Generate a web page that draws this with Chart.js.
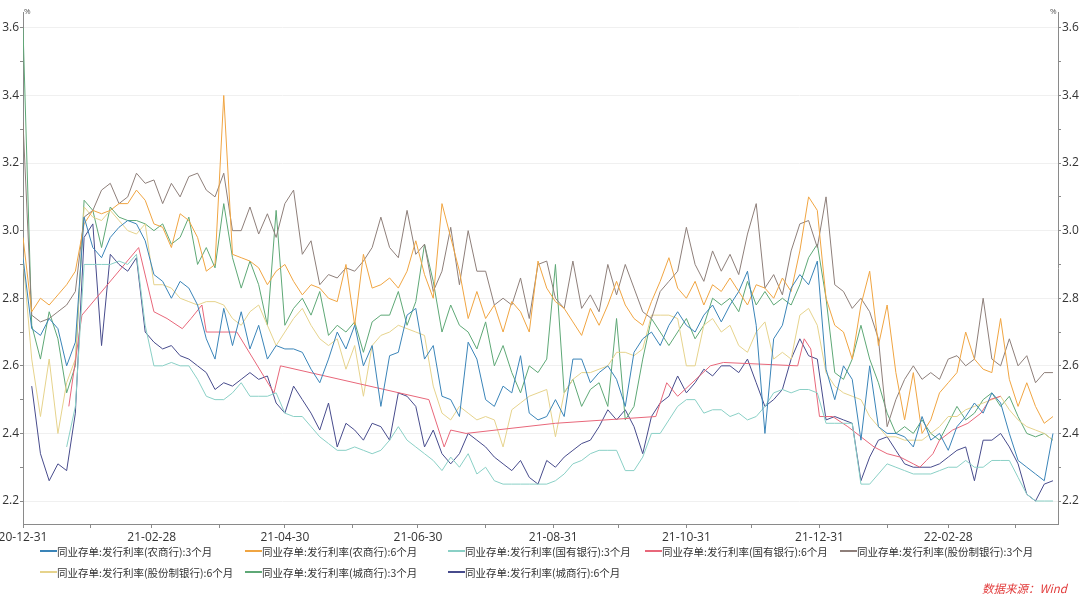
<!DOCTYPE html>
<html>
<head>
<meta charset="utf-8">
<script src="https://cdn.jsdelivr.net/npm/chart.js@4.4.0/dist/chart.umd.min.js"></script>
<style>
  html, body { margin: 0; padding: 0; background: #fff; }
  #wrap { position: relative; width: 1080px; height: 595px; overflow: hidden; font-family: "Noto Sans CJK SC", "Noto Sans", sans-serif; }
  #box { position: absolute; left: 0; top: 0; width: 1080px; height: 545px; }
  .unit { position: absolute; top: 5px; font-size: 8px; color: #555; font-family: "Open Sans", sans-serif; }
  #legend { position: absolute; left: 40px; top: 542px; display: grid; grid-template-columns: 205px 203px 197px 195px auto; row-gap: 3px; font-size: 10.5px; color: #333; }
  .item { display: flex; align-items: center; height: 18px; white-space: nowrap; }
  .item i { display: inline-block; width: 17px; height: 2px; }
  #src { position: absolute; left: 982px; top: 580px; font-size: 11.5px; font-style: italic; color: #e23b3b; }
</style>
</head>
<body>
<div id="wrap">
  <div id="box"><canvas id="grafico"></canvas></div>
  <div class="unit" style="left:24px">%</div>
  <div class="unit" style="left:1050px">%</div>
  <div id="legend"></div>
  <div id="src">数据来源：Wind</div>
</div>
<script>
// dias desde 2020-12-31
const dias = [
  0,4,8,12,16,20,24,28,32,36,
  40,44,48,52,56,60,64,68,72,76,
  80,84,88,92,96,100,104,108,112,116,
  120,124,128,132,136,140,144,148,152,156,
  160,164,168,172,176,180,184,188,192,196,
  200,204,208,212,216,220,224,228,232,236,
  240,244,248,252,256,260,264,268,272,276,
  280,284,288,292,296,300,304,308,312,316,
  320,324,328,332,336,340,344,348,352,356,
  360,364,368,372,376,380,384,388,392,396,
  400,404,408,412,416,420,424,428,432,436,
  440,444,448,452,456,460,464,468,472
];

const nombres = [
  '同业存单:发行利率(农商行):3个月',
  '同业存单:发行利率(农商行):6个月',
  '同业存单:发行利率(国有银行):3个月',
  '同业存单:发行利率(国有银行):6个月',
  '同业存单:发行利率(股份制银行):3个月',
  '同业存单:发行利率(股份制银行):6个月',
  '同业存单:发行利率(城商行):3个月',
  '同业存单:发行利率(城商行):6个月'
];

const colores = ['#3a84b8', '#f0a542', '#8ad0c6', '#e8677a', '#8e7f7a', '#e6d38c', '#5ea876', '#474b8c'];

const nongshang3m = [
  2.92,2.71,2.69,2.74,2.71,2.60,2.67,3.04,2.95,2.92,
  2.98,3.01,3.03,3.02,2.97,2.87,2.85,2.80,2.85,2.83,
  2.78,2.68,2.62,2.77,2.66,2.76,2.65,2.72,2.62,2.66,
  2.65,2.65,2.64,2.59,2.55,2.62,2.70,2.65,2.72,2.60,
  2.66,2.48,2.63,2.64,2.75,2.77,2.62,2.66,2.51,2.50,
  2.45,2.67,2.62,2.50,2.48,2.54,2.52,2.63,2.46,2.44,
  2.45,2.50,2.45,2.62,2.62,2.55,2.58,2.60,2.56,2.48,
  2.64,2.68,2.70,2.66,2.72,2.76,2.72,2.70,2.75,2.78,
  2.73,2.78,2.82,2.88,2.72,2.40,2.68,2.72,2.83,2.87,
  2.84,2.91,2.59,2.50,2.60,2.56,2.38,2.60,2.42,2.40,
  2.40,2.39,2.36,2.45,2.38,2.40,2.35,2.42,2.45,2.49,
  2.46,2.52,2.49,2.40,2.32,2.30,2.28,2.26,2.40
];

const nongshang6m = [
  2.98,2.76,2.80,2.78,2.81,2.84,2.88,3.02,3.06,3.05,
  3.06,3.08,3.08,3.12,3.09,3.02,3.01,2.95,3.05,3.03,
  2.98,2.88,2.90,3.40,2.93,2.92,2.91,2.89,2.84,2.88,
  2.90,2.85,2.81,2.84,2.83,2.80,2.79,2.90,2.72,2.93,
  2.83,2.84,2.86,2.83,2.88,2.97,2.87,2.80,3.08,2.98,
  2.88,2.74,2.82,2.74,2.78,2.70,2.79,2.76,2.70,2.91,
  2.83,2.79,2.77,2.73,2.69,2.77,2.72,2.78,2.85,2.78,
  2.74,2.72,2.79,2.85,2.92,2.83,2.80,2.85,2.78,2.84,
  2.82,2.86,2.82,2.78,2.84,2.83,2.80,2.86,2.82,2.94,
  3.10,3.06,2.80,2.72,2.70,2.62,2.78,2.88,2.66,2.78,
  2.58,2.44,2.58,2.40,2.44,2.52,2.55,2.58,2.70,2.62,
  2.59,2.58,2.74,2.56,2.48,2.55,2.48,2.43,2.45
];

const guoyou3m = [
  null,null,null,null,null,2.36,2.48,2.90,2.90,2.90,
  2.90,2.91,2.90,2.93,2.72,2.60,2.60,2.61,2.60,2.60,
  2.56,2.51,2.50,2.50,2.52,2.55,2.51,2.51,2.51,2.52,
  2.46,2.45,2.45,2.42,2.39,2.37,2.35,2.35,2.36,2.35,
  2.34,2.35,2.38,2.42,2.38,2.36,2.34,2.32,2.29,2.33,
  2.30,2.34,2.28,2.30,2.26,2.25,2.25,2.25,2.25,2.25,
  2.25,2.26,2.28,2.31,2.32,2.34,2.35,2.35,2.35,2.29,
  2.29,2.33,2.40,2.40,2.44,2.48,2.50,2.50,2.46,2.47,
  2.47,2.45,2.46,2.44,2.45,2.48,2.52,2.53,2.52,2.53,
  2.53,2.52,2.43,2.43,2.43,2.43,2.25,2.25,2.28,2.31,
  2.30,2.29,2.28,2.28,2.28,2.29,2.30,2.30,2.32,2.30,
  2.30,2.32,2.32,2.32,2.27,2.22,2.20,2.20,2.20
];

// el de 6 meses de bancos estatales tiene pocos puntos
const guoyou6mDias = [21,27,53,60,66,73,77,82,84,98,115,118,186,193,196,203,244,290,295,300,315,321,355,358,361,365,371,378,384,390,396,402,408,411,414,417,420,426,433,439,443,448];
const guoyou6m = [2.48,2.75,2.95,2.76,2.74,2.71,2.74,2.78,2.70,2.70,2.52,2.60,2.50,2.36,2.41,2.40,2.43,2.45,2.55,2.51,2.60,2.61,2.60,2.68,2.65,2.45,2.45,2.42,2.39,2.36,2.34,2.33,2.31,2.30,2.32,2.34,2.38,2.41,2.43,2.46,2.50,2.51];

const gufen3m = [
  3.32,2.75,2.73,2.74,2.76,2.78,2.82,3.04,3.06,3.12,
  3.14,3.08,3.10,3.17,3.14,3.15,3.08,3.14,3.10,3.16,
  3.17,3.12,3.10,3.17,3.00,3.00,3.07,2.99,3.05,2.98,
  3.08,3.12,2.93,2.97,2.84,2.87,2.86,2.89,2.88,2.91,
  2.95,3.04,2.95,2.92,3.06,2.93,2.96,2.82,2.88,3.01,
  2.84,3.00,2.88,2.88,2.78,2.80,2.78,2.86,2.74,2.90,
  2.91,2.80,2.77,2.91,2.77,2.81,2.76,2.90,2.81,2.90,
  2.83,2.76,2.74,2.82,2.85,2.88,3.01,2.90,2.85,2.94,
  2.88,2.93,2.87,2.99,3.08,2.83,2.87,2.81,2.94,3.02,
  3.03,2.95,3.10,2.84,2.82,2.77,2.80,2.76,2.68,2.42,
  2.50,2.56,2.60,2.56,2.58,2.56,2.62,2.63,2.60,2.62,
  2.80,2.62,2.60,2.68,2.60,2.63,2.55,2.58,2.58
];

const gufen6m = [
  2.92,2.62,2.45,2.62,2.40,2.55,2.62,3.07,3.04,3.03,
  3.06,3.03,3.00,2.99,3.02,2.84,2.84,2.83,2.80,2.79,
  2.78,2.79,2.79,2.78,2.74,2.72,2.76,2.78,2.72,2.66,
  2.70,2.74,2.77,2.72,2.68,2.66,2.68,2.59,2.66,2.51,
  2.66,2.69,2.70,2.72,2.71,2.70,2.69,2.54,2.46,2.44,
  2.48,2.46,2.44,2.45,2.44,2.36,2.47,2.49,2.51,2.52,
  2.53,2.39,2.52,2.56,2.58,2.58,2.59,2.60,2.64,2.64,
  2.63,2.65,2.75,2.75,2.75,2.74,2.60,2.60,2.72,2.74,
  2.70,2.72,2.66,2.64,2.70,2.73,2.62,2.64,2.62,2.75,
  2.77,2.72,2.58,2.54,2.52,2.51,2.50,2.45,2.42,2.39,
  2.39,2.38,2.38,2.38,2.40,2.42,2.45,2.45,2.47,2.48,
  2.49,2.50,2.51,2.47,2.44,2.42,2.41,2.40,2.38
];

const chengshang3m = [
  3.60,2.72,2.62,2.76,2.68,2.52,2.60,3.09,3.06,2.95,
  3.07,3.04,3.03,3.03,3.02,3.00,3.02,2.96,2.98,3.04,
  2.90,2.95,2.89,3.08,2.92,2.83,2.91,2.84,2.72,3.06,
  2.72,2.77,2.80,2.75,2.82,2.69,2.72,2.70,2.73,2.64,
  2.73,2.75,2.75,2.82,2.72,2.79,2.96,2.85,2.70,2.78,
  2.72,2.70,2.65,2.73,2.60,2.66,2.58,2.52,2.60,2.58,
  2.62,2.90,2.52,2.56,2.48,2.53,2.55,2.48,2.74,2.44,
  2.48,2.62,2.74,2.70,2.66,2.70,2.74,2.68,2.72,2.80,
  2.78,2.80,2.76,2.85,2.78,2.82,2.78,2.80,2.78,2.84,
  2.92,2.96,2.80,2.58,2.56,2.62,2.72,2.62,2.55,2.46,
  2.40,2.42,2.40,2.44,2.40,2.38,2.43,2.48,2.44,2.46,
  2.50,2.52,2.48,2.51,2.45,2.40,2.39,2.40,2.38
];

const chengshang6m = [
  null,2.54,2.34,2.26,2.31,2.29,2.46,2.98,3.02,2.66,
  2.93,2.90,2.88,2.92,2.70,2.67,2.65,2.66,2.63,2.62,
  2.60,2.58,2.53,2.55,2.54,2.56,2.58,2.56,2.57,2.49,
  2.46,2.54,2.50,2.46,2.41,2.49,2.36,2.43,2.41,2.38,
  2.43,2.42,2.38,2.52,2.51,2.48,2.36,2.41,2.34,2.31,
  2.34,2.40,2.38,2.36,2.33,2.31,2.29,2.32,2.27,2.25,
  2.32,2.30,2.33,2.35,2.37,2.38,2.42,2.47,2.44,2.47,
  2.42,2.34,2.45,2.49,2.51,2.57,2.52,2.55,2.59,2.57,
  2.60,2.60,2.58,2.62,2.55,2.48,2.50,2.53,2.62,2.68,
  2.63,2.62,2.44,2.45,2.44,2.43,2.26,2.33,2.38,2.39,
  2.35,2.31,2.30,2.30,2.30,2.31,2.33,2.35,2.36,2.26,
  2.38,2.38,2.40,2.36,2.31,2.22,2.20,2.25,2.26
];

// fin de mes, se rotula uno de cada dos
const finesMes = ['2020-12-31','2021-01-31','2021-02-28','2021-03-31','2021-04-30','2021-05-31','2021-06-30','2021-07-31','2021-08-31','2021-09-30','2021-10-31','2021-11-30','2021-12-31','2022-01-31','2022-02-28','2022-03-31'];
const yTicks = [2.2,2.3,2.4,2.5,2.6,2.7,2.8,2.9,3.0,3.1,3.2,3.3,3.4,3.5,3.6];

function diaDe(s) {
  const p = s.split('-').map(Number);
  return (Date.UTC(p[0], p[1] - 1, p[2]) - Date.UTC(2020, 11, 31)) / 86400000;
}
function esMayor(v) { return Math.round(v * 10) % 2 === 0; }
function puntos(xs, ys) { return xs.map((d, i) => ({ x: d, y: ys[i] })); }

const series = [nongshang3m, nongshang6m, guoyou3m, null, gufen3m, gufen6m, chengshang3m, chengshang6m];

const datasets = nombres.map((n, i) => ({
  label: n,
  data: i === 3 ? puntos(guoyou6mDias, guoyou6m) : puntos(dias, series[i]),
  borderColor: colores[i],
  backgroundColor: colores[i],
  borderWidth: 1,
  pointRadius: 0,
  tension: 0,
  spanGaps: false
}));

const ejeY = (pos) => ({
  position: pos,
  min: 2.132,
  max: 3.647,
  afterBuildTicks: s => { s.ticks = yTicks.map(v => ({ value: v })); },
  afterFit: s => { s.width = pos === 'left' ? 23 : 22; s.paddingTop = 0; s.paddingBottom = 0; },
  ticks: {
    padding: 1,
    color: '#333',
    font: { family: 'Open Sans', size: 12 },
    callback: v => esMayor(v) ? Number(v).toFixed(1) : ''
  },
  grid: {
    drawOnChartArea: pos === 'left',
    color: c => (c.tick && esMayor(c.tick.value)) ? '#f0f0f0' : 'rgba(0,0,0,0)',
    tickColor: '#8a8a8a',
    tickLength: 3
  },
  border: { color: '#8a8a8a' }
});

const chart = new Chart(document.getElementById('grafico'), {
  type: 'line',
  data: { datasets: datasets },
  options: {
    responsive: true,
    maintainAspectRatio: false,
    animation: false,
    layout: { padding: { top: 12, left: 0, right: 0, bottom: 0 } },
    plugins: { legend: { display: false }, tooltip: { enabled: false } },
    scales: {
      x: {
        type: 'linear',
        min: 0,
        max: 474.3,
        afterBuildTicks: s => { s.ticks = finesMes.map(m => ({ value: diaDe(m) })); },
        afterFit: s => { s.height = 21; s.paddingLeft = 0; s.paddingRight = 0; },
        ticks: {
          autoSkip: false,
          maxRotation: 0,
          padding: 2,
          color: '#333',
          font: { family: 'Open Sans', size: 12 },
          callback: (v, i) => i % 2 === 0 ? finesMes[i].slice(2) : ''
        },
        grid: { drawOnChartArea: false, tickLength: 4, tickColor: '#8a8a8a' },
        border: { color: '#8a8a8a' }
      },
      y: ejeY('left'),
      y2: ejeY('right')
    }
  }
});

// leyenda en html
const leyenda = document.getElementById('legend');
chart.data.datasets.forEach(ds => {
  const it = document.createElement('div');
  it.className = 'item';
  it.innerHTML = '<i style="background:' + ds.borderColor + '"></i><span>' + ds.label + '</span>';
  leyenda.appendChild(it);
});
</script>
</body>
</html>
